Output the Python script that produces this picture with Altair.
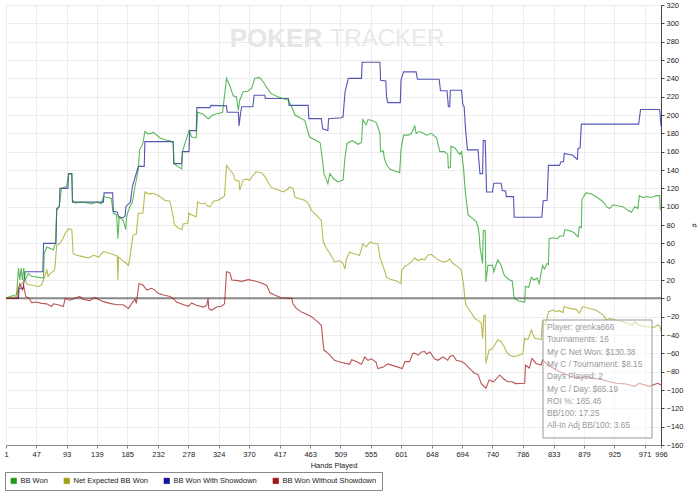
import altair as alt
import pandas as pd

SERIES = ["BB Won", "Net Expected BB Won", "BB Won With Showdown", "BB Won Without Showdown"]
COLORS = ["#1c9c1c", "#a0a014", "#14149c", "#a01414"]

X_TICKS = [1, 47, 93, 139, 185, 232, 278, 324, 370, 417, 463, 509, 555, 601, 648,
           694, 740, 786, 833, 879, 925, 971, 996]
Y_TICKS = list(range(-160, 321, 20))

STATS = ["Player: grenka666", "Tournaments: 16", "My C Net Won: $130.38",
         "My C / Tournament: $8.15", "Days Played: 2", "My C / Day: $65.19",
         "ROI %: 165.46", "BB/100: 17.25", "All-In Adj BB/100: 3.65"]

# ---- BB Won (green)
won_h = [1, 7, 17, 20, 22, 24, 26, 28, 30, 35, 40, 58, 59, 63, 73, 76, 78, 82, 85, 93,
         96, 101, 102, 106, 118, 131, 139, 146, 149, 161, 164, 169, 171, 173, 179, 183,
         184, 189, 193, 197, 202, 204, 209, 212, 217, 225, 235, 242, 250, 255, 256, 268,
         269, 279, 283, 290, 292, 300, 308, 315, 325, 330, 336, 341, 346, 351, 354, 356,
         361, 368, 374, 379, 386, 392, 397, 404, 414, 430, 435, 440, 445, 455, 462, 470,
         478, 480, 484, 488, 490, 493, 498, 505, 513, 516, 519, 527, 536, 541, 543, 548,
         551, 557, 563, 567, 569, 570, 574, 576, 579, 584, 599, 601, 605, 612, 617, 622,
         624, 628, 633, 640, 647, 655, 660, 667, 672, 673, 676, 677, 683, 687, 690, 693,
         696, 699, 703, 710, 715, 718, 720, 721, 725, 726, 729, 730, 733, 740, 742, 748,
         753, 758, 766, 770, 773, 780, 789, 790, 795, 799, 803, 808, 811, 816, 819, 823,
         825, 826, 832, 839, 842, 848, 850, 856, 863, 870, 872, 875, 876, 882, 890, 897,
         905, 910, 913, 918, 923, 930, 938, 946, 951, 956, 961, 963, 968, 975, 980, 985,
         990, 994, 995]
won_v = [0, 2, 4, 33, 20, 33, 20, 33, 20, 27, 24, 22, 49, 56, 53, 60, 96, 100, 120, 122,
         135, 136, 107, 104, 105, 103, 105, 103, 111, 109, 93, 91, 65, 89, 85, 75,
         89, 100, 105, 122, 140, 162, 169, 182, 179, 181, 175, 173, 172, 170, 147, 141,
         160, 183, 176, 175, 203, 201, 196, 200, 202, 203, 240, 232, 221, 220, 205, 216,
         225, 226, 229, 240, 241, 236, 230, 223, 220, 216, 209, 200, 198, 194, 176, 173,
         170, 161, 136, 129, 125, 136, 131, 127, 129, 154, 169, 172, 168, 170, 195, 189,
         195, 194, 192, 185, 180, 160, 161, 152, 146, 141, 137, 162, 178, 178, 180, 188,
         180, 182, 181, 178, 180, 175, 160, 160, 157, 142, 143, 166, 164, 160, 157, 160,
         142, 114, 91, 87, 84, 78, 69, 56, 38, 74, 74, 18, 36, 36, 29, 42,
         36, 25, 20, 19, 0, -3, -4, 13, 12, 23, 20, 22, 16, 36, 32, 38,
         37, 65, 66, 65, 68, 68, 75, 74, 72, 67, 78, 77, 108, 115, 114, 111,
         107, 104, 100, 98, 102, 101, 100, 96, 94, 100, 98, 112, 110, 111, 110, 111,
         112, 112, 96]

# ---- Net Expected BB Won (olive)
exp_h = [1, 17, 20, 25, 30, 33, 40, 50, 55, 58, 63, 65, 68, 75, 78, 83, 88, 91, 96, 101,
         103, 108, 118, 126, 134, 142, 149, 159, 167, 170, 171, 172, 177, 184, 187, 189,
         194, 199, 202, 209, 212, 217, 225, 235, 242, 250, 255, 257, 262, 268, 270, 277,
         279, 283, 290, 292, 298, 303, 306, 311, 316, 323, 331, 333, 336, 341, 346, 349,
         355, 356, 361, 366, 371, 376, 381, 389, 394, 399, 404, 414, 422, 429, 432, 437,
         440, 445, 455, 460, 465, 473, 480, 483, 488, 493, 500, 508, 513, 516, 518, 523,
         528, 538, 541, 543, 548, 554, 559, 566, 569, 576, 579, 584, 594, 601, 602, 607,
         612, 617, 622, 627, 632, 637, 642, 647, 652, 657, 665, 672, 675, 680, 688, 692,
         696, 698, 700, 708, 713, 718, 723, 725, 727, 729, 730, 733, 735, 740, 748, 753,
         758, 761, 766, 773, 780, 786, 789, 794, 799, 804, 814, 816, 821, 825, 832, 837,
         842, 847, 849, 857, 867, 872, 877, 887, 897, 908, 913, 918, 928, 938, 953, 956,
         963, 973, 986, 991, 994, 996]
exp_v = [0, 2, 11, 16, 20, 15, 14.5, 13, 14.5, 20, 31, 24, 27, 31, 58, 60, 65.5, 71, 76, 75,
         49, 47, 45.5, 44, 47, 45, 51, 49, 47, 46, 20, 45, 42, 38, 36, 43.6,
         69, 70, 92.7, 93, 116, 114, 114.5, 111, 107, 106, 89, 80, 77, 75, 81, 82,
         93, 91, 89, 105, 103, 104, 101.5, 100, 106, 107, 110.5, 112, 145, 140, 136, 129,
         128, 118, 129, 130, 129, 134, 138, 137, 133, 127, 121, 118.5, 116, 119, 121.5, 120,
         110.5, 109, 107, 104, 96, 90.5, 85, 61.5, 54, 49, 40, 41, 38, 32, 43, 50.5,
         49, 47, 54, 59.6, 56, 61.5, 60, 59.6, 45, 30.5, 23, 21, 19, 16, 30.5, 35,
         37, 40, 44, 41, 43, 42, 47, 48, 45, 42, 39.6, 41, 43, 38, 34, 32,
         16, 0, -7.6, -16, -22, -24, -27, -44, -18.5, -18.5, -71, -62, -56, -55, -45.5, -47,
         -53, -58, -62, -63.6, -62, -60.7, -43.6, -45, -34.5, -43.6, -45, -25.5, -29, -14.5, -12.7, -14.5,
         -13.5, -15.5, -9, -11, -12, -16, -9, -11, -12.7, -18, -23.6, -22, -24, -25.5, -29, -25.5,
         -29, -31, -31.6, -29, -30, -36]

# ---- BB Won With Showdown (blue)
sd_h = [1, 20, 21, 27, 30, 57, 58, 77, 78, 82, 83, 95, 96, 101, 102, 149, 150, 163, 164,
        170, 172, 179, 182, 183, 190, 193, 202, 211, 212, 255, 256, 268, 269, 279, 280,
        290, 291, 311, 312, 336, 337, 354, 355, 357, 359, 376, 378, 394, 395, 430, 431,
        460, 461, 480, 482, 490, 491, 510, 513, 516, 521, 541, 542, 569, 570, 578, 579,
        581, 600, 601, 605, 624, 626, 659, 661, 671, 673, 675, 676, 693, 695, 697, 699,
        702, 718, 721, 725, 726, 729, 731, 740, 742, 753, 755, 760, 761, 772, 773, 815,
        817, 823, 825, 842, 844, 848, 849, 862, 868, 869, 870, 873, 875, 962, 965, 994,
        996]
sd_v = [0, 0, 11, 11, 29, 29, 60, 60, 98, 100, 120, 120, 136, 136, 105, 105, 115, 115, 95,
        94, 89, 88, 90, 100, 105, 122, 144, 144, 171, 171, 147, 147, 160, 160, 183,
        183, 208, 208, 210.5, 210, 203, 203, 188, 200, 209, 209, 221.5, 221.5, 218, 218, 210.5,
        210.5, 196, 196, 185, 183, 196, 197, 198, 225, 240, 240, 257.5, 257.5, 238, 237, 220,
        213.5, 213.5, 238, 247, 247, 239, 239, 226.5, 226.5, 209, 209, 227, 227, 211, 209, 185,
        162, 162, 136, 136, 172, 172, 116, 116, 125.5, 125.5, 117.5, 117, 111, 111, 88.4, 88.4,
        106.5, 107, 145, 145, 149, 149, 158, 156, 152, 151.6, 163.6, 164, 190, 190, 206, 206,
        188]

# ---- BB Won Without Showdown (red)
nsd_h = [1, 19, 20, 22, 26, 28, 31, 36, 40, 47, 55, 63, 70, 73, 80, 88, 91, 98, 106, 113,
         118, 128, 136, 141, 149, 159, 169, 179, 187, 192, 197, 199, 203, 209, 215, 222,
         227, 232, 240, 250, 255, 260, 268, 278, 283, 290, 301, 306, 308, 309, 313, 321,
         328, 333, 336, 341, 344, 351, 359, 369, 379, 389, 397, 402, 409, 419, 429, 435,
         437, 442, 450, 457, 465, 475, 480, 484, 488, 493, 500, 508, 523, 526, 533, 541,
         543, 546, 551, 556, 563, 566, 574, 581, 594, 603, 607, 614, 619, 622, 627, 632,
         637, 640, 645, 652, 657, 665, 672, 675, 680, 685, 693, 698, 700, 708, 713, 718,
         723, 730, 735, 741, 743, 751, 756, 763, 770, 775, 789, 790, 796, 800, 806, 814,
         816, 824, 832, 842, 849, 859, 872, 882, 892, 908, 918, 928, 943, 956, 963, 978,
         991, 996]
nsd_v = [0, 0, 11, 16, 9, 13, 2, 0, -4.7, -4, -5.5, -6, -9, -6, -7, -9, 0, -2, 0, 2,
         -1, -2.5, 1, -1, -3.6, -5.5, -7, -7, -11, -5.5, -1, -5.5, 16, 14.5, 9, 11,
         9, 5.5, 3.6, 2, 0, -4, -6.2, -8.7, -5, -7.5, -9.5, -7.5, 0, -11, -13, -9.5,
         -8.7, -6, 29, 28, 20, 19.6, 18.5, 20.4, 19, 16.7, 14, 6, 3.6, 0.7, 0, 0,
         -6, -11, -15, -17, -20, -26, -29.5, -56.7, -58.5, -62, -67.6, -69.5, -72, -67, -69, -72,
         -69, -64, -67.6, -66, -69.5, -76.7, -75, -71.5, -74.5, -76.7, -69, -69, -60, -60, -62, -58.5,
         -58, -60.7, -58.5, -66, -67.6, -64, -67.6, -63.6, -62, -67.6, -69, -71, -72.5, -78.5, -82, -83,
         -93, -98, -89, -91, -90, -83.6, -87.5, -91, -91, -93, -92.7, -72.7, -76, -65.5, -71, -72.7,
         -67, -72.7, -76, -80, -82, -85.5, -87, -85.5, -87, -89, -91, -92.7, -93.5, -96, -92.7, -96,
         -92.7, -94.5]

FONT = "Liberation Sans, Arial"

rows = []
for name, hs, vs in [(SERIES[2], sd_h, sd_v), (SERIES[0], won_h, won_v),
                     (SERIES[1], exp_h, exp_v), (SERIES[3], nsd_h, nsd_v)]:
    for h, v in zip(hs, vs):
        rows.append({"series": name, "hand": h, "bb": v})
df = pd.DataFrame(rows)

color_scale = alt.Scale(domain=SERIES, range=COLORS)

x_enc = alt.X("hand:Q", scale=alt.Scale(domain=[1, 996], nice=False, zero=False),
              axis=alt.Axis(values=X_TICKS, title="Hands Played", grid=True,
                            gridColor="#ececec", labelFontSize=7.5, labelFont=FONT,
                            tickSize=3, domainColor="#888", tickColor="#888",
                            labelColor="#222", titleFontSize=7.5, titleFont=FONT,
                            titleFontWeight="normal", titleColor="#222",
                            titlePadding=4, labelFlush=False, labelOverlap=False,
                            labelPadding=2))
y_axis = alt.Axis(orient="right", values=Y_TICKS, title="#", grid=True,
                  gridColor="#ececec", labelFontSize=7.5, labelFont=FONT,
                  tickSize=3, domainColor="#444", tickColor="#444",
                  labelColor="#222", titleFontSize=7, titleAngle=90,
                  titleX=29, titleY=220, titleFontWeight="normal", titleFont=FONT,
                  labelPadding=2, labelFlush=False, labelOverlap=False, tickCount=25)
y_scale = alt.Scale(domain=[-160, 320], nice=False, zero=False)
y_enc = alt.Y("bb:Q", scale=y_scale, axis=y_axis)

swatches = alt.Chart(pd.DataFrame({"series": SERIES})).mark_square(opacity=0).encode(
    color=alt.Color("series:N", scale=color_scale,
                    legend=alt.Legend(orient="none", legendX=-1, legendY=467,
                                      direction="horizontal", title=None,
                                      symbolType="square", symbolSize=30,
                                      symbolOpacity=1, symbolStrokeColor="#333",
                                      symbolStrokeWidth=0.6, labelFontSize=7.5,
                                      labelFont=FONT, labelColor="#222",
                                      labelOffset=3, columnPadding=14,
                                      padding=5, strokeColor="#888",
                                      fillColor="white")),
)

lines = alt.Chart(df).mark_line(strokeWidth=1.1, strokeOpacity=0.72).encode(
    x=x_enc, y=y_enc,
    color=alt.Color("series:N", scale=color_scale),
    detail="series:N",
)

zero = alt.Chart(pd.DataFrame({"bb": [0]})).mark_rule(color="#888", strokeWidth=2).encode(
    y=y_enc)

wm1 = alt.Chart(pd.DataFrame({"t": ["POKER"]})).mark_text(
    font=FONT, fontSize=26, fontWeight="bold", color="#e6e6e6", align="center",
    baseline="middle").encode(text="t:N", x=alt.value(270), y=alt.value(34))
wm2 = alt.Chart(pd.DataFrame({"t": ["TRACKER"]})).mark_text(
    font=FONT, fontSize=24, color="#e9e9e9", align="center",
    baseline="middle").encode(text="t:N", x=alt.value(381), y=alt.value(34))

box = alt.Chart(pd.DataFrame({"a": [1]})).mark_rect(
    fill="white", fillOpacity=0.5, stroke="#999", strokeWidth=1).encode(
    x=alt.value(537), x2=alt.value(646), y=alt.value(315), y2=alt.value(433))

stats = alt.Chart(pd.DataFrame({"t": ["\n".join(STATS)]})).mark_text(
    font=FONT, fontSize=8.3, color="#999", align="left",
    baseline="top", lineBreak="\n", lineHeight=12.3).encode(
    text="t:N", x=alt.value(541), y=alt.value(318))

chart = alt.layer(swatches, wm1, wm2, zero, lines, box, stats).properties(
    width=655, height=440,
    autosize=alt.AutoSizeParams(type="none"),
    padding={"left": 6, "top": 5, "right": 39, "bottom": 55},
).configure_view(stroke="#999", strokeWidth=1).configure(background="white")

chart.save("out.html", embed_options={"renderer": "svg", "actions": False})
